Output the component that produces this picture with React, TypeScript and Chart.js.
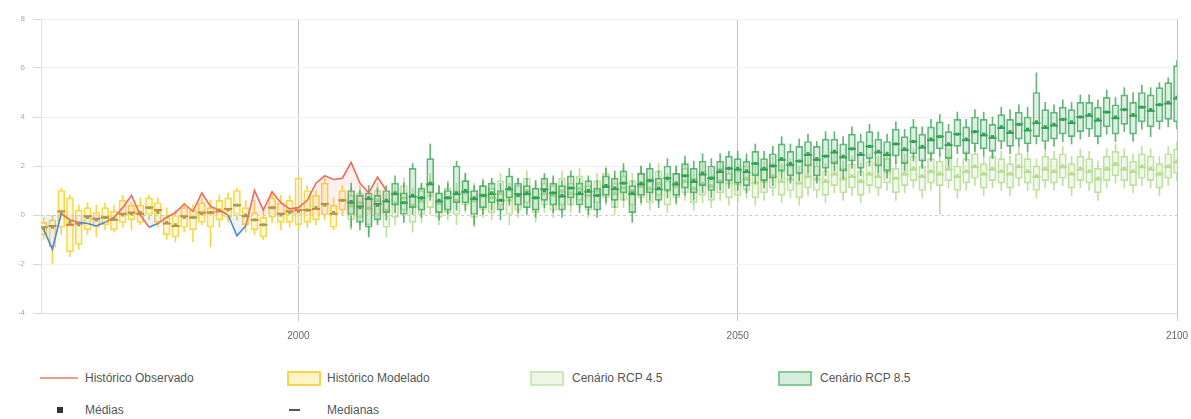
import React, { useEffect, useRef } from "react";
import { Chart, registerables } from "chart.js";

Chart.register(...registerables);

// ---------- DATA ----------
const OBS_START = 1971;
const observed = [
  -0.6, -1.4, 0.05, -0.2, -0.3, -0.35, -0.45, -0.3, -0.1, 0.3,
  0.8, 0.0, -0.5, -0.35, -0.1, 0.1, 0.45, 0.15, 0.9, 0.35,
  0.2, 0.0, -0.85, -0.45, 1.0, 0.2, 0.95, 0.5, 0.25, 0.3,
  0.6, 1.3, 1.6, 1.45, 1.5, 2.15, 1.3, 0.9, 1.55, 1.0,
];

const HIST_START = 1971;
const histMean = [-0.55, -0.5, 0.1, -0.3, -0.4, -0.1, -0.2, -0.1, -0.15, 0.0, 0.05, 0.1, 0.3, 0.1, -0.3, -0.4, -0.1, -0.1, 0.05, 0.1, 0.2, 0.2, 0.4, 0.0, -0.2, -0.4, 0.3, 0.0, 0.1, 0.15, 0.2, 0.3, 0.4, 0.1, 0.6];
const histMedian = [-0.5, -0.45, 0.15, -0.4, -0.35, -0.05, -0.15, -0.1, -0.2, 0.05, 0.1, 0.05, 0.3, 0.2, -0.35, -0.45, -0.05, -0.1, 0.1, 0.1, 0.15, 0.25, 0.4, -0.05, -0.2, -0.4, 0.3, 0.05, 0.15, 0.2, 0.2, 0.25, 0.45, 0.05, 0.6];
const histQ1 = [-0.8, -1.3, -0.5, -1.5, -1.2, -0.6, -0.5, -0.4, -0.6, -0.3, -0.2, -0.3, 0.0, -0.3, -0.8, -0.9, -0.5, -0.6, -0.3, -0.5, -0.2, -0.1, 0.0, -0.4, -0.6, -0.9, -0.1, -0.3, -0.3, -0.4, -0.3, -0.2, 0.0, -0.5, 0.2];
const histQ3 = [-0.3, -0.2, 1.0, 0.7, 0.2, 0.3, 0.1, 0.3, 0.15, 0.6, 0.4, 0.4, 0.7, 0.5, -0.1, 0.0, 0.3, 0.2, 0.5, 0.3, 0.6, 0.7, 1.0, 0.3, 0.1, -0.1, 0.7, 0.5, 0.6, 1.5, 1.0, 0.8, 1.3, 0.4, 1.0];
const histMin = [-1.0, -2.0, -0.8, -1.7, -1.4, -0.8, -0.9, -0.6, -0.7, -0.5, -0.6, -0.4, -0.2, -0.5, -1.0, -1.1, -0.7, -1.1, -0.4, -1.3, -0.5, -0.3, -0.2, -0.7, -0.8, -1.0, -0.3, -0.6, -0.5, -0.6, -0.5, -0.4, -0.2, -0.6, 0.0];
const histMax = [-0.1, 0.0, 1.1, 0.8, 0.4, 0.5, 0.4, 0.5, 0.4, 0.8, 0.5, 0.7, 0.8, 0.7, 0.3, 0.2, 0.5, 0.4, 0.7, 0.6, 0.8, 0.9, 1.1, 0.6, 0.6, 0.3, 0.9, 0.8, 0.8, 1.6, 1.2, 1.0, 1.5, 0.7, 1.2];

const RCP_START = 2006;
const rcp85Mean = [
  0.55, 0.3, 0.7, 0.4, 0.6, 0.9, 0.5, 0.8, 0.7, 1.3,
  0.6, 0.7, 0.9, 1.0, 0.7, 0.8, 0.9, 0.6, 1.1, 0.8,
  0.9, 0.7, 1.0, 0.9, 0.8, 1.1, 0.9, 1.0, 0.8, 1.2,
  1.1, 1.3, 0.9, 1.3, 1.4, 1.1, 1.5, 1.3, 1.6, 1.4,
  1.7, 1.5, 1.8, 1.9, 1.9, 1.8, 2.1, 1.9, 2.0, 2.3,
  2.1, 2.2, 2.5, 2.3, 2.4, 2.6, 2.4, 2.7, 2.5, 2.8,
  2.6, 2.5, 2.9, 2.7, 3.0, 2.8, 3.1, 3.2, 2.9, 3.3,
  3.1, 3.4, 3.3, 3.2, 3.6, 3.4, 3.7, 3.5, 3.8, 3.6,
  3.7, 3.9, 3.8, 4.0, 4.1, 3.9, 4.2, 4.0, 4.3, 4.1,
  4.4, 4.3, 4.5, 4.6, 4.8,
];
const rcp85Median = [
  0.5, 0.35, 0.65, 0.45, 0.55, 0.85, 0.5, 0.75, 0.7, 1.25,
  0.55, 0.7, 0.85, 0.95, 0.65, 0.8, 0.85, 0.6, 1.05, 0.85,
  0.85, 0.7, 1.05, 0.9, 0.75, 1.1, 0.85, 0.95, 0.8, 1.15,
  1.05, 1.3, 0.85, 1.25, 1.4, 1.05, 1.5, 1.25, 1.6, 1.35,
  1.65, 1.5, 1.75, 1.9, 1.85, 1.75, 2.1, 1.85, 2.0, 2.25,
  2.05, 2.2, 2.45, 2.25, 2.4, 2.55, 2.35, 2.7, 2.45, 2.8,
  2.55, 2.45, 2.9, 2.65, 3.0, 2.75, 3.05, 3.2, 2.85, 3.3,
  3.05, 3.4, 3.25, 3.15, 3.55, 3.35, 3.7, 3.45, 3.75, 3.55,
  3.65, 3.9, 3.75, 4.0, 4.05, 3.85, 4.2, 3.95, 4.3, 4.05,
  4.4, 4.25, 4.5, 4.55, 4.75,
];
const rcp85Q1 = [
  0.0, -0.3, -0.5, -0.2, 0.1, 0.4, 0.0, 0.3, 0.2, 0.9,
  0.1, 0.2, 0.5, 0.5, 0.0, 0.3, 0.5, 0.2, 0.7, 0.4,
  0.3, 0.2, 0.6, 0.4, 0.2, 0.7, 0.4, 0.3, 0.2, 0.8,
  0.6, 0.9, 0.1, 0.8, 0.9, 0.6, 1.0, 0.8, 1.1, 0.9,
  1.2, 1.0, 1.3, 1.4, 1.3, 1.2, 1.6, 1.4, 1.5, 1.8,
  1.6, 1.7, 2.0, 1.6, 1.9, 2.1, 1.8, 2.2, 1.9, 2.3,
  2.0, 1.8, 2.4, 2.1, 2.5, 2.2, 2.5, 2.7, 2.3, 2.8,
  2.5, 2.9, 2.7, 2.6, 3.0, 2.8, 3.1, 2.9, 3.2, 3.0,
  3.1, 3.3, 3.2, 3.4, 3.5, 3.2, 3.6, 3.3, 3.7, 3.3,
  3.8, 3.6, 3.8, 3.9, 3.8,
];
const rcp85Q3 = [
  1.0, 0.8, 0.9, 0.8, 1.0, 1.3, 0.9, 1.9, 1.1, 2.3,
  0.9, 1.0, 2.0, 1.4, 1.0, 1.2, 1.3, 1.0, 1.6, 1.3,
  1.2, 1.1, 1.5, 1.3, 1.2, 1.6, 1.3, 1.4, 1.1, 1.6,
  1.5, 1.8, 1.2, 1.7, 1.9, 1.5, 2.0, 1.7, 2.1, 1.9,
  2.2, 2.0, 2.2, 2.4, 2.3, 2.2, 2.6, 2.3, 2.5, 2.9,
  2.6, 2.8, 3.0, 2.8, 3.1, 3.1, 2.9, 3.3, 3.0, 3.4,
  3.1, 3.0, 3.5, 3.2, 3.6, 3.3, 3.6, 3.8, 3.4, 3.9,
  3.6, 4.0, 3.9, 3.7, 4.1, 3.9, 4.2, 4.0, 5.0, 4.3,
  4.2, 4.4, 4.3, 4.6, 4.6, 4.4, 4.8, 4.5, 4.9, 4.6,
  5.0, 4.9, 5.2, 5.4, 6.1,
];
const rcp85Min = [
  -0.5, -0.6, -0.9, -0.4, -0.2, 0.1, -0.3, 0.0, -0.1, 0.6,
  -0.2, 0.0, 0.2, 0.2, -0.4, 0.0, 0.2, -0.2, 0.4, 0.1,
  0.0, -0.1, 0.3, 0.1, -0.1, 0.4, 0.1, 0.0, -0.1, 0.5,
  0.3, 0.6, -0.3, 0.5, 0.6, 0.3, 0.7, 0.5, 0.8, 0.6,
  0.9, 0.7, 1.0, 1.1, 1.0, 0.9, 1.3, 1.1, 1.2, 1.5,
  1.3, 1.4, 1.7, 1.3, 1.6, 1.8, 1.5, 1.9, 1.6, 2.0,
  1.7, 1.5, 2.1, 1.8, 2.2, 1.9, 2.2, 2.4, 2.0, 2.5,
  2.2, 2.6, 2.4, 2.3, 2.7, 2.5, 2.8, 2.6, 2.9, 2.7,
  2.8, 3.0, 2.9, 3.1, 3.2, 2.9, 3.3, 3.0, 3.4, 3.0,
  3.5, 3.2, 3.5, 3.6, 3.5,
];
const rcp85Max = [
  1.3, 1.0, 1.2, 1.1, 1.2, 1.6, 1.3, 2.1, 1.3, 2.9,
  1.2, 1.3, 2.2, 1.7, 1.2, 1.4, 1.5, 1.3, 1.9, 1.5,
  1.5, 1.4, 1.7, 1.6, 1.4, 1.8, 1.5, 1.6, 1.4, 1.9,
  1.8, 2.1, 1.4, 2.0, 2.1, 1.8, 2.3, 2.0, 2.4, 2.2,
  2.5, 2.3, 2.5, 2.6, 2.6, 2.5, 2.9, 2.6, 2.8, 3.2,
  2.9, 3.1, 3.3, 3.0, 3.4, 3.4, 3.2, 3.6, 3.3, 3.7,
  3.4, 3.3, 3.8, 3.5, 3.9, 3.6, 3.9, 4.1, 3.7, 4.2,
  3.9, 4.3, 4.2, 4.0, 4.4, 4.3, 4.5, 4.4, 5.8, 4.6,
  4.5, 4.7, 4.6, 4.9, 4.9, 4.7, 5.1, 4.8, 5.2, 5.0,
  5.3, 5.2, 5.4, 5.6, 6.3,
];

const rcp45Mean = [
  0.4, 0.5, 0.3, 0.6, 0.2, 0.5, 0.7, 0.4, 0.6, 0.8,
  0.5, 0.7, 0.6, 0.9, 0.6, 0.8, 0.7, 0.9, 0.6, 0.8,
  1.0, 0.7, 0.9, 0.8, 1.0, 0.9, 1.1, 0.8, 1.0, 1.2,
  0.9, 1.1, 1.0, 1.2, 1.1, 1.3, 1.0, 1.2, 1.4, 1.1,
  1.3, 1.2, 1.4, 1.3, 1.3, 1.5, 1.3, 1.4, 1.6, 1.4,
  1.5, 1.3, 1.6, 1.5, 1.4, 1.7, 1.5, 1.6, 1.4, 1.7,
  1.6, 1.8, 1.5, 1.7, 1.9, 1.6, 1.8, 1.7, 1.9, 1.6,
  1.8, 2.0, 1.7, 1.9, 1.8, 1.7, 2.0, 1.8, 1.6, 1.9,
  1.8, 2.0, 1.7, 1.9, 1.8, 1.5, 1.9, 2.1, 1.9, 1.8,
  2.0, 1.9, 1.7, 2.0, 2.2,
];
const rcp45Median = [
  0.35, 0.5, 0.25, 0.55, 0.2, 0.45, 0.7, 0.35, 0.55, 0.8,
  0.45, 0.7, 0.55, 0.9, 0.55, 0.75, 0.7, 0.85, 0.6, 0.75,
  0.95, 0.7, 0.85, 0.8, 0.95, 0.85, 1.05, 0.8, 0.95, 1.15,
  0.85, 1.1, 0.95, 1.15, 1.05, 1.25, 1.0, 1.15, 1.35, 1.05,
  1.25, 1.15, 1.35, 1.3, 1.25, 1.45, 1.3, 1.35, 1.55, 1.35,
  1.45, 1.3, 1.55, 1.45, 1.35, 1.65, 1.45, 1.55, 1.35, 1.65,
  1.55, 1.75, 1.5, 1.65, 1.85, 1.55, 1.75, 1.65, 1.85, 1.55,
  1.75, 1.95, 1.65, 1.85, 1.75, 1.65, 1.95, 1.75, 1.55, 1.85,
  1.75, 1.95, 1.65, 1.85, 1.75, 1.45, 1.85, 2.05, 1.85, 1.75,
  1.95, 1.85, 1.65, 1.95, 2.15,
];
const rcp45Q1 = [
  -0.2, -0.1, -0.4, 0.0, -0.5, -0.1, 0.2, -0.3, 0.0, 0.3,
  -0.1, 0.1, 0.0, 0.4, -0.1, 0.2, 0.1, 0.4, 0.0, 0.2,
  0.5, 0.1, 0.4, 0.2, 0.4, 0.4, 0.6, 0.2, 0.5, 0.7,
  0.3, 0.6, 0.4, 0.7, 0.5, 0.8, 0.4, 0.7, 0.9, 0.5,
  0.8, 0.6, 0.9, 0.7, 0.8, 1.0, 0.7, 0.9, 1.1, 0.8,
  1.0, 0.7, 1.1, 1.0, 0.8, 1.2, 0.9, 1.1, 0.8, 1.2,
  1.1, 1.3, 0.9, 1.2, 1.4, 1.0, 1.3, 1.2, 1.4, 1.0,
  1.3, 1.5, 1.1, 1.4, 1.3, 1.1, 1.5, 1.3, 1.0, 1.4,
  1.3, 1.5, 1.1, 1.4, 1.3, 0.9, 1.4, 1.6, 1.4, 1.2,
  1.5, 1.4, 1.1, 1.5, 1.7,
];
const rcp45Q3 = [
  0.8, 0.9, 0.7, 1.0, 0.6, 0.9, 1.2, 0.8, 1.0, 1.3,
  0.9, 1.1, 1.0, 1.4, 1.0, 1.2, 1.1, 1.4, 1.0, 1.2,
  1.5, 1.1, 1.3, 1.2, 1.5, 1.3, 1.6, 1.2, 1.4, 1.7,
  1.3, 1.6, 1.4, 1.7, 1.5, 1.8, 1.4, 1.7, 1.9, 1.5,
  1.8, 1.6, 1.9, 1.7, 1.8, 2.0, 1.7, 1.9, 2.1, 1.8,
  2.0, 1.7, 2.1, 2.0, 1.8, 2.2, 1.9, 2.1, 1.8, 2.2,
  2.1, 2.3, 1.9, 2.2, 2.4, 2.0, 2.3, 2.2, 2.4, 2.0,
  2.3, 2.5, 2.1, 2.4, 2.3, 2.1, 2.5, 2.3, 2.0, 2.4,
  2.3, 2.5, 2.1, 2.4, 2.3, 1.9, 2.4, 2.6, 2.4, 2.2,
  2.5, 2.4, 2.1, 2.5, 2.7,
];
const rcp45Min = [
  -0.6, -0.4, -0.8, -0.3, -0.9, -0.4, -0.1, -0.7, -0.3, 0.0,
  -0.4, -0.2, -0.4, 0.1, -0.5, -0.1, -0.2, 0.1, -0.4, -0.1,
  0.2, -0.3, 0.1, -0.1, 0.1, 0.1, 0.3, -0.1, 0.2, 0.4,
  0.0, 0.3, 0.1, 0.4, 0.2, 0.5, 0.1, 0.4, 0.6, 0.2,
  0.5, 0.3, 0.6, 0.4, 0.5, 0.7, 0.4, 0.6, 0.8, 0.5,
  0.7, 0.4, 0.8, 0.7, 0.5, 0.9, 0.6, 0.8, 0.5, 0.9,
  0.8, 1.0, 0.6, 0.9, 1.1, 0.7, 1.0, 0.0, 1.1, 0.7,
  1.0, 1.2, 0.8, 1.1, 1.0, 0.8, 1.2, 1.0, 0.7, 1.1,
  1.0, 1.2, 0.8, 1.1, 1.0, 0.6, 1.1, 1.3, 1.1, 0.9,
  1.2, 1.1, 0.8, 1.2, 1.4,
];
const rcp45Max = [
  1.1, 1.2, 1.0, 1.3, 0.9, 1.2, 1.5, 1.1, 1.3, 1.7,
  1.2, 1.4, 1.3, 1.7, 1.3, 1.5, 1.4, 1.7, 1.3, 1.5,
  1.8, 1.4, 1.6, 1.5, 1.8, 1.6, 1.9, 1.5, 1.7, 2.0,
  1.6, 1.9, 1.7, 2.0, 1.8, 2.1, 1.7, 2.0, 2.2, 1.8,
  2.1, 1.9, 2.2, 2.0, 2.1, 2.3, 2.0, 2.2, 2.4, 2.1,
  2.3, 2.0, 2.4, 2.3, 2.1, 2.5, 2.2, 2.4, 2.1, 2.5,
  2.4, 2.6, 2.2, 2.5, 2.7, 2.3, 2.6, 2.5, 2.7, 2.3,
  2.6, 2.8, 2.4, 2.7, 2.6, 2.4, 2.8, 2.6, 2.3, 2.7,
  2.6, 2.8, 2.4, 2.7, 2.6, 2.2, 2.7, 2.9, 2.7, 2.5,
  2.8, 2.7, 2.4, 2.8, 3.0,
];

const yTicks = [-4, -2, 0, 2, 4, 6, 8];
const xTicks = [2000, 2050, 2100];
const X_MIN = 1970.7;
const X_MAX = 2100;

// ---------- STYLE ----------
const FONT = "'Liberation Sans', Arial, sans-serif";

type BoxColors = { fill: string; border: string; mean: string; median: string };

function boxDatasets(
  name: string,
  start: number,
  mins: number[],
  q1s: number[],
  medians: number[],
  q3s: number[],
  maxs: number[],
  means: number[],
  c: BoxColors,
  order: number
): any[] {
  const xs = mins.map((_, i) => start + i);
  return [
    {
      type: "scatter",
      label: name + " - médias",
      data: xs.map((x, i) => ({ x, y: means[i] })),
      pointStyle: "rect",
      pointRadius: 2.2,
      backgroundColor: c.mean,
      borderColor: c.mean,
      borderWidth: 0,
      showLine: false,
      order: order,
    },
    {
      type: "scatter",
      label: name + " - medianas",
      data: xs.map((x, i) => ({ x, y: medians[i] })),
      pointStyle: "line",
      pointRadius: 4,
      borderColor: c.median,
      borderWidth: 2,
      showLine: false,
      order: order + 0.5,
    },
    {
      type: "bar",
      label: name,
      data: xs.map((x, i) => ({ x, y: [q1s[i], q3s[i]] })),
      backgroundColor: c.fill,
      borderColor: c.border,
      borderWidth: 1,
      borderSkipped: false,
      barThickness: 7,
      grouped: false,
      order: order + 1,
    },
    {
      type: "bar",
      label: name + " - extremos",
      data: [
        ...xs.map((x, i) => ({ x, y: [mins[i], q1s[i]] })),
        ...xs.map((x, i) => ({ x, y: [q3s[i], maxs[i]] })),
      ],
      backgroundColor: c.border,
      borderWidth: 0,
      barThickness: 1,
      grouped: false,
      order: order + 2,
    },
  ];
}

const zeroLinePlugin = {
  id: "zeroLine",
  beforeDatasetsDraw(chart: any) {
    const { ctx, chartArea, scales } = chart;
    const y = Math.round(scales.y.getPixelForValue(0)) + 0.5;
    ctx.save();
    ctx.strokeStyle = "#cfcfcf";
    ctx.lineWidth = 1;
    ctx.setLineDash([3, 3]);
    ctx.beginPath();
    ctx.moveTo(chartArea.left, y);
    ctx.lineTo(chartArea.right, y);
    ctx.stroke();
    ctx.restore();
  },
};

const RED = "#ef6b5b";
const BLUE = "#4f86d8";

export default function App() {
  const ref = useRef<HTMLCanvasElement | null>(null);

  useEffect(() => {
    if (!ref.current) return;
    const obsData = observed.map((v, i) => ({ x: OBS_START + i, y: v }));

    const datasets: any[] = [
      {
        type: "line",
        label: "Histórico Observado",
        data: obsData,
        borderColor: RED,
        borderWidth: 1.6,
        pointRadius: 0,
        tension: 0,
        fill: { target: "origin", above: "rgba(240,110,95,0.10)", below: "rgba(80,130,215,0.10)" },
        segment: {
          borderColor: (ctx: any) =>
            (ctx.p0.parsed.y + ctx.p1.parsed.y) / 2 < -0.3 ? BLUE : RED,
        },
        order: 0,
      },
      ...boxDatasets("Cenário RCP 8.5", RCP_START, rcp85Min, rcp85Q1, rcp85Median, rcp85Q3, rcp85Max, rcp85Mean,
        { fill: "rgba(90,185,115,0.22)", border: "rgba(60,165,90,0.8)", mean: "#33a054", median: "#33a054" }, 1),
      ...boxDatasets("Cenário RCP 4.5", RCP_START, rcp45Min, rcp45Q1, rcp45Median, rcp45Q3, rcp45Max, rcp45Mean,
        { fill: "rgba(200,230,170,0.25)", border: "rgba(180,218,145,0.85)", mean: "#b8dc94", median: "#b8dc94" }, 5),
      ...boxDatasets("Histórico Modelado", HIST_START, histMin, histQ1, histMedian, histQ3, histMax, histMean,
        { fill: "rgba(255,232,120,0.28)", border: "rgba(246,210,50,0.9)", mean: "#7cb44e", median: "#e8743b" }, 9),
    ];

    const chart = new Chart(ref.current, {
      type: "bar",
      data: { datasets },
      options: {
        animation: false,
        responsive: false,
        devicePixelRatio: 1,
        layout: { padding: { top: 19, right: 14, left: 0, bottom: 0 } },
        plugins: { legend: { display: false }, tooltip: { enabled: false } },
        scales: {
          x: {
            type: "linear",
            min: X_MIN,
            max: X_MAX,
            offset: false,
            afterBuildTicks: (s: any) => {
              s.ticks = xTicks.map((v) => ({ value: v }));
            },
            afterFit: (s: any) => {
              s.height = 37;
              s.paddingRight = 0;
              s.paddingLeft = 0;
            },
            ticks: {
              color: "#666",
              font: { size: 10, family: FONT },
              maxRotation: 0,
              padding: 9,
              callback: (v: any) => String(v),
            },
            grid: { color: "#c4c4c4", offset: false, tickLength: 8, tickColor: "#c4c4c4" },
            border: { color: "#d9d9d9" },
          },
          y: {
            type: "linear",
            min: -4,
            max: 8,
            afterBuildTicks: (s: any) => {
              s.ticks = yTicks.map((v) => ({ value: v }));
            },
            afterFit: (s: any) => {
              s.width = 41;
              s.paddingTop = 0;
              s.paddingBottom = 0;
            },
            ticks: {
              color: "#aaa",
              font: { size: 8, family: FONT },
              padding: 8,
            },
            grid: {
              color: (ctx: any) => (ctx.tick && ctx.tick.value === 0 ? "rgba(0,0,0,0)" : "#f1f1f1"),
              tickLength: 8,
              tickColor: "#d6d6d6",
            },
            border: { color: "#e0e0e0" },
          },
        },
      },
      plugins: [zeroLinePlugin],
    } as any);

    return () => chart.destroy();
  }, []);

  const textStyle: React.CSSProperties = {
    position: "absolute",
    fontFamily: FONT,
    fontSize: 12,
    color: "#555",
    lineHeight: "14px",
    whiteSpace: "nowrap",
  };

  return (
    <div style={{ position: "absolute", left: 0, top: 0, width: 1191, height: 419, background: "#fff", overflow: "hidden" }}>
      <canvas ref={ref} width={1191} height={350} style={{ position: "absolute", left: 0, top: 0, width: 1191, height: 350 }} />
      {/* legend row 1 */}
      <div style={{ position: "absolute", left: 40, top: 377, width: 38, height: 2, background: "#f39a8c" }} />
      <div style={{ ...textStyle, left: 85, top: 371 }}>Histórico Observado</div>
      <div style={{ position: "absolute", left: 287, top: 371, width: 30, height: 11, border: "2px solid #f6d548", background: "#fdf4c6" }} />
      <div style={{ ...textStyle, left: 327, top: 371 }}>Histórico Modelado</div>
      <div style={{ position: "absolute", left: 530, top: 371, width: 30, height: 11, border: "2px solid #cde8b6", background: "#eef7e7" }} />
      <div style={{ ...textStyle, left: 572, top: 371 }}>Cenário RCP 4.5</div>
      <div style={{ position: "absolute", left: 778, top: 371, width: 30, height: 11, border: "2px solid #86ca98", background: "#d5eddb" }} />
      <div style={{ ...textStyle, left: 820, top: 371 }}>Cenário RCP 8.5</div>
      {/* legend row 2 */}
      <div style={{ position: "absolute", left: 57, top: 407, width: 6, height: 6, background: "#333" }} />
      <div style={{ ...textStyle, left: 85, top: 403 }}>Médias</div>
      <div style={{ position: "absolute", left: 289, top: 409, width: 11, height: 2, background: "#555" }} />
      <div style={{ ...textStyle, left: 327, top: 403 }}>Medianas</div>
    </div>
  );
}
